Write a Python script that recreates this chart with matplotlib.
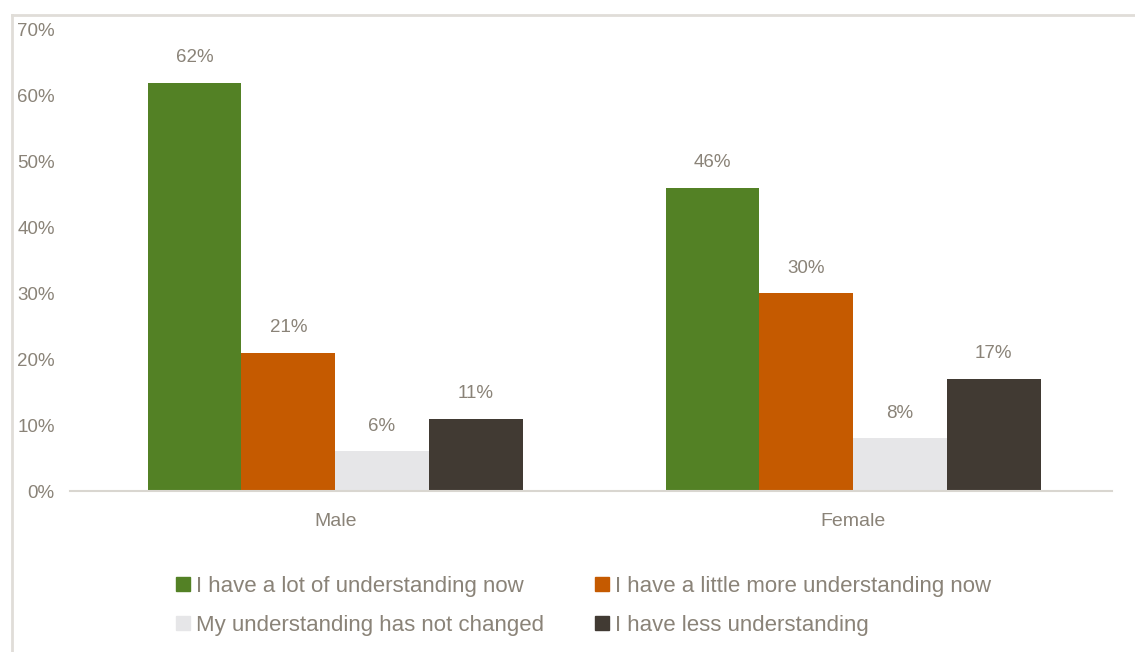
import matplotlib
matplotlib.use('Agg')
from matplotlib import pyplot as plt
from matplotlib.lines import Line2D
from matplotlib.patches import Patch
import numpy as np

plt.rcParams['font.family'] = ['Liberation Sans', 'DejaVu Sans']

groups = ['Male', 'Female']
series = ['I have a lot of understanding now',
          'I have a little more understanding now',
          'My understanding has not changed',
          'I have less understanding']
values = {
    series[0]: [62, 46],
    series[1]: [21, 30],
    series[2]: [6, 8],
    series[3]: [11, 17],
}
colors = ['#538125', '#c55a00', '#e6e6e8', '#413a33']
ticks = [0, 10, 20, 30, 40, 50, 60, 70]
txt = '#8a8378'

fig = plt.figure(figsize=(11.35, 6.52), dpi=100)
ax = fig.add_axes([70 / 1135, 1 - 491 / 652, (1112 - 70) / 1135, (491 - 30) / 652])

x = np.arange(len(groups))
w = 0.181
for i, s in enumerate(series):
    pos = x + (i - 1.5) * w
    bars = ax.bar(pos, values[s], width=w, color=colors[i], label=s, zorder=2)
    for b, v in zip(bars, values[s]):
        ax.annotate('%d%%' % v, (b.get_x() + b.get_width() / 2, v),
                    xytext=(0, 12), textcoords='offset points',
                    ha='center', va='bottom', fontsize=13.5, color=txt)

ax.set_xlim(-0.512, 1.5)
ax.set_ylim(0, 70)
ax.set_yticks(ticks)
ax.set_yticklabels(['%d%%' % t for t in ticks], fontsize=13.5, color=txt)
ax.set_xticks(x)
ax.set_xticklabels(groups, fontsize=14, color=txt)
ax.tick_params(axis='y', length=0, pad=11)
ax.tick_params(axis='x', length=0, pad=16)
for sp in ['top', 'right', 'left']:
    ax.spines[sp].set_visible(False)
ax.spines['bottom'].set_color('#d9d6d0')
ax.spines['bottom'].set_linewidth(1.5)

# outer chart frame (only top and left edges visible in the crop)
fig.add_artist(Line2D([12 / 1135, 12 / 1135], [0, 1 - 15 / 652],
                      transform=fig.transFigure, color='#e0ddd8', lw=2))
fig.add_artist(Line2D([12 / 1135, 1], [1 - 15 / 652, 1 - 15 / 652],
                      transform=fig.transFigure, color='#e0ddd8', lw=2))

order = [0, 2, 1, 3]
handles = [Patch(color=colors[i], label=series[i]) for i in order]
fig.legend(handles=handles, ncol=2, loc='center',
           bbox_to_anchor=(584 / 1135, 1 - 606 / 652), frameon=False,
           fontsize=16, labelcolor=txt, handlelength=0.6, handleheight=0.6,
           handletextpad=0.3, columnspacing=2.3, labelspacing=0.8)

fig.savefig('out.png', dpi=100)
